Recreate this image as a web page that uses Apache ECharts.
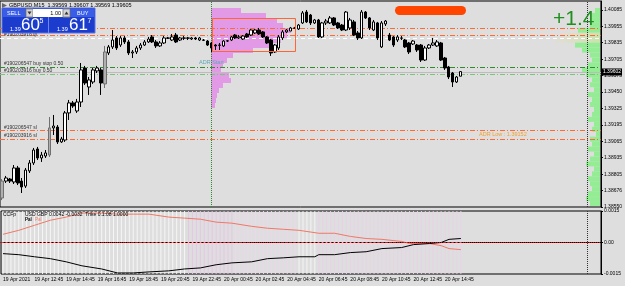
<!DOCTYPE html>
<html lang="en">
<head>
<meta charset="UTF-8">
<title>GBPUSD,M15</title>
<script src="https://cdn.jsdelivr.net/npm/echarts@6/dist/echarts.min.js"></script>
<style>
  html, body { margin: 0; padding: 0; background: #dedede; }
  #chart { width: 625px; height: 286px; }
</style>
</head>
<body>
<div id="chart"></div>
<script>
// M15 candles, 19 Apr 10:45 -> 20 Apr 15:45, [open, close, low, high]
var candles = [
  [1.38620, 1.38752, 1.38604, 1.38768], [1.38752, 1.38776, 1.38737, 1.38792], [1.38768, 1.38752, 1.38737, 1.38776],
  [1.38745, 1.38854, 1.38729, 1.38877], [1.38854, 1.38737, 1.38721, 1.38870], [1.38752, 1.38706, 1.38659, 1.38776],
  [1.38713, 1.38838, 1.38698, 1.38854], [1.38831, 1.38893, 1.38815, 1.38916], [1.38893, 1.38994, 1.38877, 1.39010],
  [1.39002, 1.38932, 1.38916, 1.39018], [1.38932, 1.38955, 1.38901, 1.38979], [1.38947, 1.38971, 1.38932, 1.38994],
  [1.38955, 1.39166, 1.38940, 1.39251], [1.39166, 1.39181, 1.39111, 1.39267], [1.39173, 1.39057, 1.39041, 1.39189],
  [1.39057, 1.39080, 1.39049, 1.39096], [1.39072, 1.39283, 1.39057, 1.39298], [1.39283, 1.39361, 1.39228, 1.39384],
  [1.39361, 1.39337, 1.39322, 1.39376], [1.39298, 1.39368, 1.39283, 1.39392], [1.39368, 1.39618, 1.39329, 1.39672],
  [1.39633, 1.39516, 1.39501, 1.39649], [1.39485, 1.39540, 1.39423, 1.39563], [1.39524, 1.39618, 1.39509, 1.39633],
  [1.39610, 1.39633, 1.39594, 1.39649], [1.39618, 1.39516, 1.39423, 1.39633], [1.39509, 1.39758, 1.39477, 1.39805],
  [1.39750, 1.39797, 1.39734, 1.39812], [1.39797, 1.39851, 1.39781, 1.39929], [1.39867, 1.39789, 1.39773, 1.39882],
  [1.39812, 1.39867, 1.39797, 1.39882], [1.39867, 1.39836, 1.39820, 1.39882], [1.39836, 1.39750, 1.39734, 1.39851],
  [1.39750, 1.39758, 1.39711, 1.39773], [1.39758, 1.39789, 1.39742, 1.39805], [1.39789, 1.39812, 1.39773, 1.39828],
  [1.39812, 1.39836, 1.39805, 1.39851], [1.39836, 1.39859, 1.39828, 1.39875], [1.39875, 1.39836, 1.39828, 1.39890],
  [1.39836, 1.39805, 1.39789, 1.39851], [1.39805, 1.39828, 1.39797, 1.39843], [1.39828, 1.39867, 1.39820, 1.39882],
  [1.39867, 1.39865, 1.39859, 1.39875], [1.39851, 1.39875, 1.39843, 1.39898], [1.39890, 1.39836, 1.39828, 1.39906],
  [1.39851, 1.39867, 1.39843, 1.39875], [1.39867, 1.39865, 1.39851, 1.39882], [1.39865, 1.39867, 1.39851, 1.39875],
  [1.39859, 1.39867, 1.39851, 1.39875], [1.39867, 1.39859, 1.39851, 1.39875], [1.39851, 1.39867, 1.39843, 1.39875],
  [1.39851, 1.39849, 1.39843, 1.39859], [1.39843, 1.39812, 1.39805, 1.39851], [1.39828, 1.39789, 1.39758, 1.39836],
  [1.39812, 1.39805, 1.39773, 1.39820], [1.39812, 1.39810, 1.39773, 1.39828], [1.39805, 1.39843, 1.39797, 1.39851],
  [1.39843, 1.39845, 1.39836, 1.39851], [1.39851, 1.39875, 1.39843, 1.39882], [1.39890, 1.39867, 1.39859, 1.39898],
  [1.39867, 1.39875, 1.39859, 1.39890], [1.39859, 1.39882, 1.39851, 1.39890], [1.39898, 1.39875, 1.39867, 1.39906],
  [1.39890, 1.39929, 1.39882, 1.39937], [1.39906, 1.39929, 1.39898, 1.39937], [1.39929, 1.39898, 1.39890, 1.39945],
  [1.39914, 1.39875, 1.39867, 1.39921], [1.39875, 1.39828, 1.39820, 1.39882], [1.39851, 1.39750, 1.39727, 1.39859],
  [1.39758, 1.39812, 1.39750, 1.39820], [1.39789, 1.39875, 1.39773, 1.39890], [1.39867, 1.39914, 1.39851, 1.39929],
  [1.39914, 1.39929, 1.39906, 1.39937], [1.39921, 1.39945, 1.39921, 1.39953], [1.39945, 1.39943, 1.39937, 1.39953],
  [1.39937, 1.39968, 1.39929, 1.39976], [1.39984, 1.40062, 1.39976, 1.40077], [1.40069, 1.39992, 1.39984, 1.40085],
  [1.40046, 1.39984, 1.39968, 1.40054], [1.39984, 1.40007, 1.39976, 1.40015], [1.40007, 1.39875, 1.39867, 1.40015],
  [1.39875, 1.39984, 1.39867, 1.39992], [1.39984, 1.39999, 1.39968, 1.40015], [1.39984, 1.40023, 1.39976, 1.40038],
  [1.40023, 1.39968, 1.39960, 1.40030], [1.39984, 1.39945, 1.39937, 1.39992], [1.39968, 1.39929, 1.39921, 1.39976],
  [1.39929, 1.40069, 1.39921, 1.40077], [1.39945, 1.40007, 1.39929, 1.40023], [1.39992, 1.39890, 1.39882, 1.40007],
  [1.39906, 1.39867, 1.39851, 1.39921], [1.39867, 1.40069, 1.39859, 1.40085], [1.40069, 1.40023, 1.40015, 1.40077],
  [1.40023, 1.39945, 1.39929, 1.40030], [1.39929, 1.39992, 1.39921, 1.40007], [1.39984, 1.39867, 1.39851, 1.39992],
  [1.39797, 1.39984, 1.39789, 1.39999], [1.39976, 1.39999, 1.39960, 1.40007], [1.39890, 1.39851, 1.39843, 1.39906],
  [1.39875, 1.39812, 1.39797, 1.39882], [1.39851, 1.39875, 1.39836, 1.39890], [1.39867, 1.39865, 1.39851, 1.39882],
  [1.39851, 1.39797, 1.39789, 1.39859], [1.39828, 1.39758, 1.39742, 1.39836], [1.39820, 1.39843, 1.39812, 1.39851],
  [1.39812, 1.39773, 1.39758, 1.39820], [1.39812, 1.39695, 1.39680, 1.39820], [1.39695, 1.39789, 1.39688, 1.39805],
  [1.39789, 1.39812, 1.39781, 1.39820], [1.39812, 1.39828, 1.39805, 1.39867], [1.39805, 1.39836, 1.39797, 1.39851],
  [1.39828, 1.39695, 1.39688, 1.39836], [1.39711, 1.39633, 1.39618, 1.39719], [1.39641, 1.39563, 1.39547, 1.39649],
  [1.39594, 1.39524, 1.39485, 1.39602], [1.39524, 1.39563, 1.39516, 1.39571], [1.39569, 1.39605, 1.39569, 1.39607]
];
var greyBars = [0, 12, 26];          // candles drawn grey by the terminal
var slotCount = 152;                 // bar slots incl. chart shift on the right

var timeTicks = ['19 Apr 2021', '19 Apr 12:45', '19 Apr 14:45', '19 Apr 16:45', '19 Apr 18:45', '19 Apr 20:45',
  '19 Apr 22:45', '20 Apr 00:45', '20 Apr 02:45', '20 Apr 04:45', '20 Apr 06:45', '20 Apr 08:45',
  '20 Apr 10:45', '20 Apr 12:45', '20 Apr 14:45'];
var priceTicks = ['1.38550', '1.38676', '1.38805', '1.38935', '1.39065', '1.39195', '1.39325',
  '1.39450', '1.39575', '1.39705', '1.39835', '1.39955', '1.40085'];
var priceMin = 1.3855, priceStep = 0.00128, priceMax = 1.40155;

// order / level lines
var orangeLevels = [1.39945, 1.39890];
var tpLevel = 1.39867;
var buyStopLevel = 1.39641, buyLevel = 1.39586;
var slLevels = [1.39145, 1.39080];
var bidPrice = 1.39602;
var adrStartBar = 53, shiftBar = 148;
var valueBox = [53, 74, 1.40023, 1.39766];   // first bar, last bar, high, low

// volume profiles (relative widths)
var pinkVolume = [30, 55, 66, 72, 80, 76, 70, 60, 42, 22, 16, 12, 10, 18, 20, 12, 8, 6, 5, 4];
var greenVolume = [5, 8, 8, 10, 22, 38, 45, 25, 18, 10, 8, 12, 18, 14, 8, 10, 6, 12, 8, 10,
  6, 8, 12, 6, 8, 4, 10, 8, 12, 6, 10, 14, 6, 8, 12, 10, 8, 12, 14, 10];

// CCFp sub window: [bar, value]
var ccfRed = [[0, 0.00039], [4, 0.00058], [8, 0.00082], [12, 0.00106], [16, 0.00121], [20, 0.00140], [25, 0.00140],
  [29, 0.00135], [33, 0.00135], [37, 0.00135], [42, 0.00121], [46, 0.00116], [50, 0.00111], [54, 0.00097],
  [58, 0.00092], [63, 0.00077], [67, 0.00068], [71, 0.00063], [75, 0.00058], [80, 0.00044], [84, 0.00044],
  [88, 0.00029], [92, 0.00019], [96, 0.00015], [101, 0.00005], [103, -0.00005], [108, -0.00005],
  [111, -0.00015], [113, -0.00029], [116, -0.00034]];
var ccfBlack = [[0, -0.00053], [4, -0.00058], [8, -0.00068], [12, -0.00077], [16, -0.00092], [20, -0.00111],
  [25, -0.00126], [29, -0.00145], [33, -0.00145], [37, -0.00140], [42, -0.00135], [46, -0.00126],
  [50, -0.00121], [54, -0.00106], [58, -0.00097], [63, -0.00092], [67, -0.00077], [71, -0.00073],
  [75, -0.00068], [79, -0.00068], [80, -0.00058], [84, -0.00058], [88, -0.00048], [92, -0.00044],
  [96, -0.00029], [101, -0.00024], [104, -0.00010], [108, -0.00005], [111, 0.00000], [113, 0.00015],
  [116, 0.00019]];

var slots = [];
for (var i = 0; i < slotCount; i++) slots.push(String(i));

var candleItems = candles.map(function (c, i) {
    if (greyBars.indexOf(i) >= 0) {
        return { value: c, itemStyle: { color: '#b0b0b0', color0: '#b0b0b0', borderColor: '#707070', borderColor0: '#707070' } };
    }
    return c;
});

var dashDot = [5, 2, 1, 2];
var font = 'Liberation Sans, Arial, sans-serif';

function hLine(v, color, type, text) {
    return {
        yAxis: v,
        lineStyle: { color: color, type: type, width: 1 },
        label: text ? { show: true, formatter: text, position: 'insideStartTop', distance: [4, 1], color: '#333', fontSize: 5 } : { show: false }
    };
}

function showTime(idx) {
    return idx % 8 === 0 && idx / 8 < timeTicks.length;
}

function stripeColor(i) {
    if (i < 47) return '#f6f6f6';
    if (i < 59) return '#e6c6e6';
    if (i < 75) return '#ead8ea';
    if (i < 80) return '#f4f4f4';
    return '#e8d2e8';
}

var chart = echarts.init(document.getElementById('chart'));

var option = {
    backgroundColor: '#dedede',
    animation: false,
    textStyle: { fontFamily: font },
    grid: [
        { left: 0, right: 24, top: 1, height: 206, show: true, borderColor: '#000', borderWidth: 1 },
        { left: 211, top: 8, width: 90, height: 100 },
        { right: 25, top: 8, width: 75, height: 198 },
        { left: 0, right: 24, top: 211, height: 63, show: true, borderColor: '#000', borderWidth: 1 }
    ],
    xAxis: [
        { type: 'category', gridIndex: 0, data: slots, axisLine: { show: false }, axisTick: { show: false }, axisLabel: { show: false } },
        { type: 'value', gridIndex: 1, min: 0, max: 90, show: false },
        { type: 'value', gridIndex: 2, min: 0, max: 75, inverse: true, show: false },
        {
            type: 'category', gridIndex: 3, data: slots,
            axisLine: { lineStyle: { color: '#000' } },
            axisTick: { alignWithLabel: true, interval: showTime, length: 3, lineStyle: { color: '#000' } },
            axisLabel: {
                interval: showTime, align: 'left', margin: 3, fontSize: 5, color: '#000',
                formatter: function (v, idx) { return timeTicks[idx / 8] || ''; }
            }
        }
    ],
    yAxis: [
        {
            type: 'value', gridIndex: 0, position: 'right', min: priceMin, max: priceMax, interval: priceStep,
            splitLine: { show: false },
            axisLine: { show: true, lineStyle: { color: '#000' } },
            axisTick: { show: true, length: 2, lineStyle: { color: '#000' } },
            axisLabel: {
                fontSize: 5, color: '#000', margin: 3, showMaxLabel: false,
                formatter: function (v) {
                    var k = Math.round((v - priceMin) / priceStep);
                    if (Math.abs(priceMin + k * priceStep - v) > 1e-7) return '';
                    return priceTicks[k] || '';
                }
            }
        },
        { type: 'category', gridIndex: 1, inverse: true, data: pinkVolume.map(function (v, i) { return 'p' + i; }), show: false },
        { type: 'category', gridIndex: 2, inverse: true, data: greenVolume.map(function (v, i) { return 'g' + i; }), show: false },
        {
            type: 'value', gridIndex: 3, position: 'right', min: -0.0015, max: 0.0015, interval: 0.0015,
            splitLine: { show: false },
            axisLine: { show: true, lineStyle: { color: '#000' } },
            axisTick: { show: true, length: 2, lineStyle: { color: '#000' } },
            axisLabel: {
                fontSize: 5, color: '#000', margin: 3,
                formatter: function (v) { return v === 0 ? '0.00' : v.toFixed(4); }
            }
        }
    ],
    series: [
        {
            name: 'pink profile', type: 'bar', xAxisIndex: 1, yAxisIndex: 1, z: 0,
            barCategoryGap: '0%', data: pinkVolume, itemStyle: { color: '#e39ae6' }, silent: true
        },
        {
            name: 'green profile', type: 'bar', xAxisIndex: 2, yAxisIndex: 2, z: 0,
            barCategoryGap: '0%', data: greenVolume, silent: true,
            itemStyle: {
                color: function (p) {
                    if (p.dataIndex === 5 || p.dataIndex === 6) {
                        return new echarts.graphic.LinearGradient(0, 0, 1, 0, [
                            { offset: 0, color: 'rgba(230,222,190,0.3)' },
                            { offset: 1, color: '#c8e4a8' }]);
                    }
                    return '#94ec94';
                }
            }
        },
        {
            name: 'GBPUSD', type: 'candlestick', xAxisIndex: 0, yAxisIndex: 0, z: 5,
            barWidth: 3, data: candleItems,
            itemStyle: { color: '#ffffff', color0: '#000000', borderColor: '#000000', borderColor0: '#000000', borderWidth: 1 }
        },
        {
            // range box of the session profile
            name: 'range box', type: 'custom', xAxisIndex: 0, yAxisIndex: 0, z: 8, silent: true,
            data: [valueBox],
            renderItem: function (params, api) {
                var a = api.coord([api.value(0), api.value(2)]);
                var b = api.coord([api.value(1), api.value(3)]);
                return {
                    type: 'rect',
                    shape: { x: Math.round(a[0]) + 0.5, y: Math.round(a[1]) + 0.5, width: Math.round(b[0] - a[0]), height: Math.round(b[1] - a[1]) },
                    style: { fill: 'none', stroke: '#ff6633', lineWidth: 1 }
                };
            }
        },
        {
            // carrier for the order lines
            name: 'levels', type: 'line', xAxisIndex: 0, yAxisIndex: 0, z: 8, silent: true,
            data: candles.map(function (c) { return c[1]; }),
            showSymbol: false, symbol: 'none', lineStyle: { opacity: 0 },
            markLine: {
                silent: true, symbol: 'none', animation: false, precision: 5,
                data: [
                    hLine(orangeLevels[0], '#ff6a30', dashDot),
                    hLine(orangeLevels[1], '#ff6a30', dashDot),
                    hLine(tpLevel, '#ffffff', [4, 3], '#190203918 tp'),
                    hLine(buyStopLevel, '#2e8b2e', dashDot, '#190206547 buy stop 0.50'),
                    hLine(buyLevel, '#7cc47c', dashDot, '#190203916 buy 0.50'),
                    hLine(slLevels[0], '#ff6a30', dashDot, '#190206547 sl'),
                    hLine(slLevels[1], '#ff6a30', dashDot, '#190203916 sl'),
                    {
                        yAxis: bidPrice, lineStyle: { color: '#bcbcbc', type: 'solid', width: 1 },
                        label: { show: true, position: 'end', distance: 1, formatter: bidPrice.toFixed(5), backgroundColor: '#000', color: '#fff', fontSize: 5, padding: [1, 1] }
                    },
                    { xAxis: adrStartBar, lineStyle: { color: '#2e8b2e', type: 'dotted', width: 1 }, label: { show: false } },
                    { xAxis: shiftBar, lineStyle: { color: '#333', type: 'dotted', width: 1 }, label: { show: false } }
                ]
            }
        },
        {
            name: 'stripes', type: 'custom', xAxisIndex: 3, yAxisIndex: 3, z: 1, silent: true,
            data: candles.map(function (c, i) { return [i]; }),
            renderItem: function (params, api) {
                var i = api.value(0);
                var top = api.coord([i, 0.0015]);
                var bot = api.coord([i, -0.0015]);
                return { type: 'line', shape: { x1: top[0], y1: top[1], x2: bot[0], y2: bot[1] }, style: { stroke: stripeColor(i), lineWidth: 1 } };
            }
        },
        {
            name: 'Pal', type: 'line', xAxisIndex: 3, yAxisIndex: 3, z: 3, data: ccfRed, symbol: 'none',
            lineStyle: { color: '#f07866', width: 1 },
            markLine: {
                silent: true, symbol: 'none', precision: 5,
                data: [{ yAxis: 0, lineStyle: { color: '#ff0000', type: 'dotted', width: 1 }, label: { show: false } }]
            }
        },
        {
            name: 'Pal ', type: 'line', xAxisIndex: 3, yAxisIndex: 3, z: 3, data: ccfBlack, symbol: 'none',
            lineStyle: { color: '#000', width: 1 },
            markLine: {
                silent: true, symbol: 'none',
                data: [{ xAxis: shiftBar, lineStyle: { color: '#333', type: 'dotted', width: 1 }, label: { show: false } }]
            }
        }
    ],
    graphic: [
        // title
        { type: 'polygon', shape: { points: [[2, 3], [7, 5.5], [2, 8]] }, style: { fill: '#666' } },
        { type: 'text', x: 9, y: 2.5, style: { text: 'GBPUSD,M15  1.39569 1.39607 1.39569 1.39605', fill: '#000', fontSize: 5.5, fontFamily: font } },
        // one-click trading panel
        { type: 'rect', shape: { x: 2, y: 8, width: 93, height: 25 }, style: { fill: '#1b3ccc', stroke: '#5c74e8', lineWidth: 1 }, z: 20 },
        { type: 'rect', shape: { x: 3, y: 9, width: 22, height: 8 }, style: { fill: '#3a5de8' }, z: 20 },
        { type: 'text', x: 7, y: 10.5, style: { text: 'SELL', fill: '#fff', fontSize: 5.5, fontFamily: font }, z: 21 },
        { type: 'rect', shape: { x: 26, y: 9, width: 7, height: 8 }, style: { fill: '#d4d4d4', stroke: '#888' }, z: 20 },
        { type: 'polygon', shape: { points: [[27.5, 11.5], [31.5, 11.5], [29.5, 14.5]] }, style: { fill: '#333' }, z: 21 },
        { type: 'rect', shape: { x: 33, y: 9, width: 30, height: 8 }, style: { fill: '#fff' }, z: 20 },
        { type: 'text', x: 61, y: 10.5, style: { text: '1.00', fill: '#000', fontSize: 5.5, align: 'right', fontFamily: font }, z: 21 },
        { type: 'rect', shape: { x: 63, y: 9, width: 7, height: 8 }, style: { fill: '#d4d4d4', stroke: '#888' }, z: 20 },
        { type: 'polygon', shape: { points: [[64.5, 14.5], [68.5, 14.5], [66.5, 11.5]] }, style: { fill: '#333' }, z: 21 },
        { type: 'rect', shape: { x: 71, y: 9, width: 23, height: 8 }, style: { fill: '#3a5de8' }, z: 20 },
        { type: 'text', x: 77, y: 10.5, style: { text: 'BUY', fill: '#fff', fontSize: 5.5, fontFamily: font }, z: 21 },
        { type: 'line', shape: { x1: 48.5, y1: 17, x2: 48.5, y2: 33 }, style: { stroke: '#6f86f0' }, z: 21 },
        { type: 'text', x: 10, y: 26, style: { text: '1.39', fill: '#fff', fontSize: 5.5, fontFamily: font }, z: 21 },
        { type: 'text', x: 21, y: 16.5, style: { text: '60', fill: '#fff', fontSize: 17, fontFamily: font }, z: 21 },
        { type: 'text', x: 39.5, y: 18, style: { text: '5', fill: '#fff', fontSize: 7, fontFamily: font }, z: 21 },
        { type: 'text', x: 57, y: 26, style: { text: '1.39', fill: '#fff', fontSize: 5.5, fontFamily: font }, z: 21 },
        { type: 'text', x: 69, y: 16.5, style: { text: '61', fill: '#fff', fontSize: 17, fontFamily: font }, z: 21 },
        { type: 'text', x: 87.5, y: 18, style: { text: '7', fill: '#fff', fontSize: 7, fontFamily: font }, z: 21 },
        // indicators overlay
        { type: 'rect', shape: { x: 395, y: 6, width: 71, height: 9, r: 4.5 }, style: { fill: '#ff4500' }, z: 20 },
        { type: 'text', x: 553, y: 9, style: { text: '+1.4', fill: '#1f8f1f', fontSize: 21, fontFamily: font }, z: 20 },
        { type: 'text', x: 199, y: 59.5, style: { text: 'ADR Start', fill: '#5aa8b8', fontSize: 5.5, fontFamily: font }, z: 20 },
        { type: 'text', x: 479, y: 131, style: { text: 'ADR Low : 1.39152', fill: '#f0a030', fontSize: 5.5, fontFamily: font }, z: 20 },
        // sub window captions
        { type: 'text', x: 3, y: 212.5, style: { text: 'CCFp', fill: '#000', fontSize: 5, fontFamily: font }, z: 20 },
        { type: 'text', x: 25, y: 212.5, style: { text: 'USD GBP 0.0042 -0.0032  Trike 0.1:08 1.0000', fill: '#000', fontSize: 5, fontFamily: font }, z: 20 },
        { type: 'text', x: 25, y: 217.5, style: { text: 'Pal', fill: '#000', fontSize: 4.5, fontWeight: 'bold', fontFamily: font }, z: 20 },
        { type: 'text', x: 35, y: 217.5, style: { text: 'Pal', fill: '#f07866', fontSize: 4.5, fontFamily: font }, z: 20 }
    ]
};

chart.setOption(option);
</script>
</body>
</html>
